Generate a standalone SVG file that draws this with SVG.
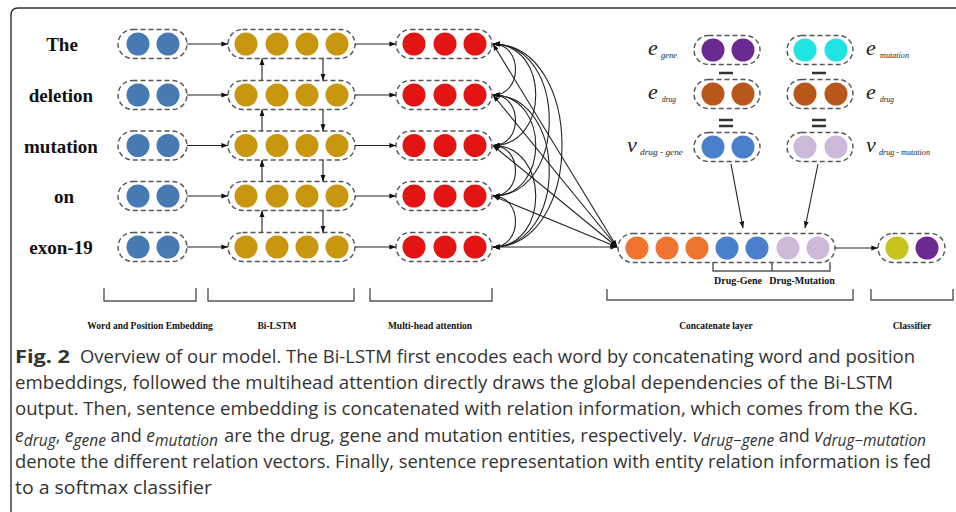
<svg xmlns="http://www.w3.org/2000/svg" width="956" height="512" viewBox="0 0 956 512">
<defs>
<style>
.pill{fill:none;stroke:#555;stroke-width:1.4;stroke-dasharray:5 3}
.lbl{font-family:"Liberation Serif",serif;font-weight:bold;fill:#111}
.word{font-size:19px;text-anchor:middle}
.sec{font-size:9.5px;text-anchor:middle}
.conn{fill:none;stroke:#222;stroke-width:1.1}
.arr{marker-end:url(#ah)}
.brk{fill:none;stroke:#555;stroke-width:1.4}
.op{fill:none;stroke:#333;stroke-width:2.4}
.ent{font-family:"Liberation Serif",serif;font-style:italic;fill:#222}
.cap{font-family:"Open Sans",sans-serif;font-size:17.5px;fill:#333}
.sub{font-style:italic;font-size:15.5px}
.eb{fill:#4779B2}.gd{fill:#C9960F}.rd{fill:#E21414}
.or{fill:#EE7430}.bl{fill:#4A7FCB}.lv{fill:#CDB9D8}
.pu{fill:#6B2A92}.cy{fill:#22E3E3}.br{fill:#B8561B}.yg{fill:#C6C41C}
</style>
<marker id="ah" viewBox="0 0 10 10" refX="9.5" refY="5" markerWidth="7" markerHeight="7" markerUnits="userSpaceOnUse" orient="auto-start-reverse"><path d="M0,1.5 L10,5 L0,8.5 z" fill="#111"/></marker>
</defs>
<rect width="956" height="512" fill="#fff"/>
<path d="M11,512 V15 Q11,8 18,8 H956" fill="none" stroke="#333" stroke-width="1.4"/>

<g id="words" class="lbl word">
<text x="62" y="51">The</text>
<text x="61" y="102">deletion</text>
<text x="61" y="152.5">mutation</text>
<text x="64" y="203">on</text>
<text x="61" y="254">exon-19</text>
</g>

<g id="embedding">
<g id="emb-1"><rect class="pill" x="118" y="29.5" width="69" height="29" rx="14.5"/><circle class="eb" cx="138" cy="44" r="11.5"/><circle class="eb" cx="168" cy="44" r="11.5"/></g>
<g id="emb-2"><rect class="pill" x="118" y="80.5" width="69" height="29" rx="14.5"/><circle class="eb" cx="138" cy="95" r="11.5"/><circle class="eb" cx="168" cy="95" r="11.5"/></g>
<g id="emb-3"><rect class="pill" x="118" y="131" width="69" height="29" rx="14.5"/><circle class="eb" cx="138" cy="145.5" r="11.5"/><circle class="eb" cx="168" cy="145.5" r="11.5"/></g>
<g id="emb-4"><rect class="pill" x="118" y="181.5" width="69" height="29" rx="14.5"/><circle class="eb" cx="138" cy="196" r="11.5"/><circle class="eb" cx="168" cy="196" r="11.5"/></g>
<g id="emb-5"><rect class="pill" x="118" y="232.5" width="69" height="29" rx="14.5"/><circle class="eb" cx="138" cy="247" r="11.5"/><circle class="eb" cx="168" cy="247" r="11.5"/></g>
</g>

<g id="bilstm">
<g id="lstm-1"><rect class="pill" x="228" y="29.5" width="127" height="29" rx="14.5"/><circle class="gd" cx="246" cy="44" r="11.5"/><circle class="gd" cx="277" cy="44" r="11.5"/><circle class="gd" cx="307" cy="44" r="11.5"/><circle class="gd" cx="337" cy="44" r="11.5"/></g>
<g id="lstm-2"><rect class="pill" x="228" y="80.5" width="127" height="29" rx="14.5"/><circle class="gd" cx="246" cy="95" r="11.5"/><circle class="gd" cx="277" cy="95" r="11.5"/><circle class="gd" cx="307" cy="95" r="11.5"/><circle class="gd" cx="337" cy="95" r="11.5"/></g>
<g id="lstm-3"><rect class="pill" x="228" y="131" width="127" height="29" rx="14.5"/><circle class="gd" cx="246" cy="145.5" r="11.5"/><circle class="gd" cx="277" cy="145.5" r="11.5"/><circle class="gd" cx="307" cy="145.5" r="11.5"/><circle class="gd" cx="337" cy="145.5" r="11.5"/></g>
<g id="lstm-4"><rect class="pill" x="228" y="181.5" width="127" height="29" rx="14.5"/><circle class="gd" cx="246" cy="196" r="11.5"/><circle class="gd" cx="277" cy="196" r="11.5"/><circle class="gd" cx="307" cy="196" r="11.5"/><circle class="gd" cx="337" cy="196" r="11.5"/></g>
<g id="lstm-5"><rect class="pill" x="228" y="232.5" width="127" height="29" rx="14.5"/><circle class="gd" cx="246" cy="247" r="11.5"/><circle class="gd" cx="277" cy="247" r="11.5"/><circle class="gd" cx="307" cy="247" r="11.5"/><circle class="gd" cx="337" cy="247" r="11.5"/></g>
</g>

<g id="attention">
<g id="att-1"><rect class="pill" x="396" y="29.5" width="96" height="29" rx="14.5"/><circle class="rd" cx="414" cy="44" r="11.5"/><circle class="rd" cx="445" cy="44" r="11.5"/><circle class="rd" cx="475" cy="44" r="11.5"/></g>
<g id="att-2"><rect class="pill" x="396" y="80.5" width="96" height="29" rx="14.5"/><circle class="rd" cx="414" cy="95" r="11.5"/><circle class="rd" cx="445" cy="95" r="11.5"/><circle class="rd" cx="475" cy="95" r="11.5"/></g>
<g id="att-3"><rect class="pill" x="396" y="131" width="96" height="29" rx="14.5"/><circle class="rd" cx="414" cy="145.5" r="11.5"/><circle class="rd" cx="445" cy="145.5" r="11.5"/><circle class="rd" cx="475" cy="145.5" r="11.5"/></g>
<g id="att-4"><rect class="pill" x="396" y="181.5" width="96" height="29" rx="14.5"/><circle class="rd" cx="414" cy="196" r="11.5"/><circle class="rd" cx="445" cy="196" r="11.5"/><circle class="rd" cx="475" cy="196" r="11.5"/></g>
<g id="att-5"><rect class="pill" x="396" y="232.5" width="96" height="29" rx="14.5"/><circle class="rd" cx="414" cy="247" r="11.5"/><circle class="rd" cx="445" cy="247" r="11.5"/><circle class="rd" cx="475" cy="247" r="11.5"/></g>
</g>

<g id="relation-entities">
<g id="e-gene"><rect class="pill" x="694" y="35.5" width="66" height="29" rx="14.5"/><circle class="pu" cx="713" cy="50" r="11.5"/><circle class="pu" cx="743" cy="50" r="11.5"/>
<text class="ent" x="648" y="55" font-size="22">e</text><text class="ent" x="661" y="58" font-size="8" textLength="16" lengthAdjust="spacingAndGlyphs">gene</text></g>
<g id="e-mutation"><rect class="pill" x="787" y="35.5" width="66" height="29" rx="14.5"/><circle class="cy" cx="805" cy="50" r="11.5"/><circle class="cy" cx="836" cy="50" r="11.5"/>
<text class="ent" x="866" y="55" font-size="22">e</text><text class="ent" x="880" y="58" font-size="8" textLength="29" lengthAdjust="spacingAndGlyphs">mutation</text></g>
<g id="e-drug-1"><rect class="pill" x="694" y="79.5" width="66" height="29" rx="14.5"/><circle class="br" cx="713" cy="94" r="11.5"/><circle class="br" cx="743" cy="94" r="11.5"/>
<text class="ent" x="648" y="99" font-size="22">e</text><text class="ent" x="662" y="102" font-size="8" textLength="14" lengthAdjust="spacingAndGlyphs">drug</text></g>
<g id="e-drug-2"><rect class="pill" x="787" y="79.5" width="66" height="29" rx="14.5"/><circle class="br" cx="805" cy="94" r="11.5"/><circle class="br" cx="836" cy="94" r="11.5"/>
<text class="ent" x="866" y="99" font-size="22">e</text><text class="ent" x="880" y="102" font-size="8" textLength="14" lengthAdjust="spacingAndGlyphs">drug</text></g>
<g id="v-drug-gene"><rect class="pill" x="694" y="132.5" width="66" height="29" rx="14.5"/><circle class="bl" cx="713" cy="147" r="11.5"/><circle class="bl" cx="743" cy="147" r="11.5"/>
<text class="ent" x="627" y="152" font-size="22">v</text><text class="ent" x="640" y="155" font-size="8" textLength="43" lengthAdjust="spacingAndGlyphs">drug - gene</text></g>
<g id="v-drug-mutation"><rect class="pill" x="787" y="132.5" width="66" height="29" rx="14.5"/><circle class="lv" cx="805" cy="147" r="11.5"/><circle class="lv" cx="836" cy="147" r="11.5"/>
<text class="ent" x="866" y="152" font-size="22">v</text><text class="ent" x="879" y="155" font-size="8" textLength="51" lengthAdjust="spacingAndGlyphs">drug - mutation</text></g>
<path class="op" d="M719,73 H733 M812,73 H826 M719,120 H733 M719,126 H733 M812,120 H826 M812,126 H826"/>
</g>

<g id="concat">
<rect class="pill" x="618" y="233.5" width="217" height="29" rx="14.5"/>
<circle class="or" cx="637" cy="248" r="11.5"/><circle class="or" cx="667" cy="248" r="11.5"/><circle class="or" cx="697" cy="248" r="11.5"/>
<circle class="bl" cx="727" cy="248" r="11.5"/><circle class="bl" cx="757" cy="248" r="11.5"/>
<circle class="lv" cx="788" cy="248" r="11.5"/><circle class="lv" cx="818" cy="248" r="11.5"/>
<path class="brk" d="M713,262 V271 H830 V262 M772,262 V271"/>
<text class="lbl" x="738" y="284" font-size="10" text-anchor="middle">Drug-Gene</text>
<text class="lbl" x="802" y="284" font-size="10" text-anchor="middle">Drug-Mutation</text>
</g>

<g id="classifier">
<rect class="pill" x="878" y="233.5" width="67" height="29" rx="14.5"/>
<circle class="yg" cx="897" cy="248" r="11.5"/><circle class="pu" cx="927" cy="248" r="11.5"/>
</g>

<g id="connectors" class="conn">
<path class="arr" d="M187,44 H228"/><path class="arr" d="M187,95 H228"/><path class="arr" d="M187,145.5 H228"/><path class="arr" d="M187,196 H228"/><path class="arr" d="M187,247 H228"/>
<path class="arr" d="M355,44 H396"/><path class="arr" d="M355,95 H396"/><path class="arr" d="M355,145.5 H396"/><path class="arr" d="M355,196 H396"/><path class="arr" d="M355,247 H396"/>
<path class="arr" d="M262,80.5 V58.5"/><path class="arr" d="M262,131 V109.5"/><path class="arr" d="M262,181.5 V160"/><path class="arr" d="M262,232.5 V210.5"/>
<path class="arr" d="M323,58.5 V80.5"/><path class="arr" d="M323,109.5 V131"/><path class="arr" d="M323,160 V181.5"/><path class="arr" d="M323,210.5 V232.5"/>
<g marker-start="url(#ah)" marker-end="url(#ah)">
<path d="M493,44 C523,44 523,95 493,95"/>
<path d="M493,95 C523,95 523,145.5 493,145.5"/>
<path d="M493,145.5 C523,145.5 523,196 493,196"/>
<path d="M493,196 C523,196 523,247 493,247"/>
<path d="M493,44 C550,44 550,145.5 493,145.5"/>
<path d="M493,95 C550,95 550,196 493,196"/>
<path d="M493,145.5 C550,145.5 550,247 493,247"/>
<path d="M493,44 C568,44 568,196 493,196"/>
<path d="M493,95 C568,95 568,247 493,247"/>
<path d="M493,44 C585,44 585,247 493,247"/>
<path d="M617,247 L493,44"/>
<path d="M617,247 L493,95"/>
<path d="M617,247 L493,145.5"/>
<path d="M617,247 L493,196"/>
<path d="M617,247 L493,247"/>
</g>
<path class="arr" d="M731,164 L743,228"/>
<path class="arr" d="M818,164 L805,228"/>
<path class="arr" d="M835,248 H878"/>
</g>

<g id="sections">
<path class="brk" d="M104,288 V301 H196 V288 M208,288 V301 H354 V288 M370,288 V301 H492 V288 M607,289 V300 H853 V289 M871,289 V300 H953 V289"/>
<text class="lbl sec" x="150" y="329">Word and Position Embedding</text>
<text class="lbl sec" x="277" y="329">Bi-LSTM</text>
<text class="lbl sec" x="430" y="329">Multi-head attention</text>
<text class="lbl sec" x="716" y="329">Concatenate layer</text>
<text class="lbl sec" x="912" y="329">Classifier</text>
</g>

<g id="caption">
<text class="cap" x="15" y="363" font-weight="bold" textLength="55" lengthAdjust="spacingAndGlyphs">Fig. 2</text>
<text class="cap" x="80" y="363" textLength="835" lengthAdjust="spacingAndGlyphs">Overview of our model. The Bi-LSTM first encodes each word by concatenating word and position</text>
<text class="cap" x="15" y="389.2" textLength="878" lengthAdjust="spacingAndGlyphs">embeddings, followed the multihead attention directly draws the global dependencies of the Bi-LSTM</text>
<text class="cap" x="15" y="415.4" textLength="903" lengthAdjust="spacingAndGlyphs">output. Then, sentence embedding is concatenated with relation information, which comes from the KG.</text>
<text class="cap" y="441.6"><tspan x="15" font-style="italic">e</tspan><tspan class="sub" dy="4">drug</tspan><tspan dy="-4">, </tspan><tspan font-style="italic">e</tspan><tspan class="sub" dy="4">gene</tspan><tspan dy="-4"> and </tspan><tspan font-style="italic">e</tspan><tspan class="sub" dy="4">mutation</tspan></text>
<text class="cap" x="224" y="441.6" textLength="463" lengthAdjust="spacingAndGlyphs">are the drug, gene and mutation entities, respectively.</text>
<text class="cap" y="441.6"><tspan x="693" font-style="italic">v</tspan><tspan class="sub" dy="4">drug−gene</tspan><tspan dy="-4"> and </tspan><tspan font-style="italic">v</tspan><tspan class="sub" dy="4">drug−mutation</tspan></text>
<text class="cap" x="15" y="467.8" textLength="916" lengthAdjust="spacingAndGlyphs">denote the different relation vectors. Finally, sentence representation with entity relation information is fed</text>
<text class="cap" x="15" y="494" textLength="197" lengthAdjust="spacingAndGlyphs">to a softmax classifier</text>
</g>
</svg>
